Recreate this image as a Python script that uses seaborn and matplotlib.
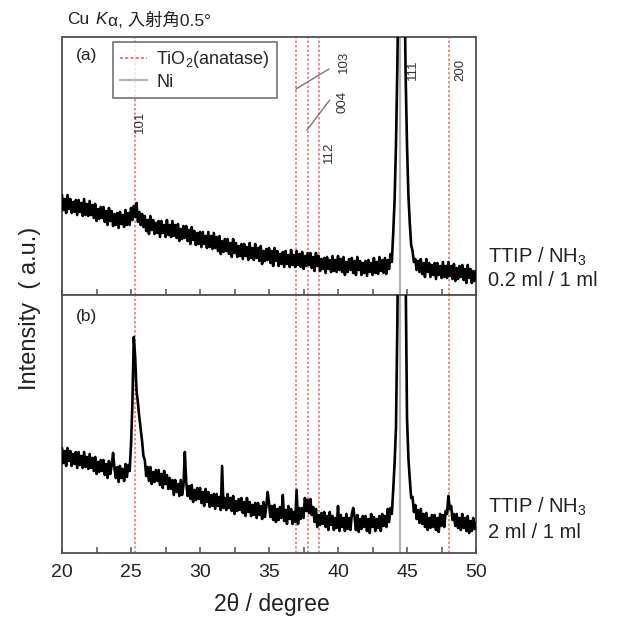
import matplotlib
matplotlib.use("Agg")
import matplotlib.pyplot as plt
from matplotlib.ticker import MultipleLocator
from matplotlib.lines import Line2D
import numpy as np
import seaborn as sb

# ---- data (intensity in arbitrary units) ----
two_theta = np.round(np.arange(20, 50.001, 0.1), 1)

# (a) TTIP/NH3 = 0.2 ml / 1 ml, one row per degree
intensity_a = [
    100, 85, 96, 82, 100, 86, 96, 82, 93, 83,
    95, 80, 95, 83, 92, 79, 96, 80, 91, 79,
    94, 80, 90, 77, 91, 74, 86, 76, 88, 77,
    88, 73, 84, 70, 87, 74, 84, 69, 81, 70,
    82, 67, 83, 71, 80, 68, 85, 70, 82, 70,
    87, 75, 89, 78, 92, 73, 83, 70, 81, 68,
    79, 64, 75, 61, 79, 65, 75, 61, 72, 62,
    74, 58, 74, 62, 70, 58, 75, 60, 70, 58,
    74, 59, 70, 57, 71, 54, 66, 56, 69, 57,
    69, 54, 65, 51, 68, 55, 64, 50, 62, 51,
    63, 48, 63, 51, 59, 47, 63, 48, 59, 46,
    62, 47, 58, 44, 59, 41, 54, 43, 56, 44,
    56, 41, 52, 38, 56, 42, 52, 38, 49, 39,
    51, 36, 51, 39, 48, 35, 52, 37, 47, 35,
    51, 37, 47, 34, 49, 31, 44, 34, 46, 35,
    47, 32, 44, 29, 47, 34, 44, 29, 41, 31,
    43, 28, 44, 31, 40, 28, 45, 30, 40, 28,
    44, 30, 41, 28, 43, 26, 39, 29, 42, 30,
    42, 27, 38, 24, 42, 29, 39, 24, 36, 26,
    37, 22, 38, 26, 35, 23, 39, 24, 35, 23,
    39, 25, 36, 23, 38, 20, 33, 23, 36, 25,
    37, 22, 34, 20, 38, 25, 34, 20, 32, 22,
    34, 19, 35, 23, 32, 20, 37, 22, 33, 21,
    38, 24, 35, 22, 37, 21, 35, 26, 41, 33,
    62, 95, 150, 230, 330, 560, 800, 900, 330, 220,
    150, 100, 72, 50, 44, 33, 36, 25, 34, 23,
    36, 21, 32, 18, 36, 23, 32, 18, 30, 20,
    32, 16, 32, 20, 29, 17, 33, 18, 29, 17,
    33, 19, 29, 16, 31, 14, 27, 16, 29, 18,
    30, 15, 26, 12, 30, 17, 26, 12, 24, 14,
    24,
]

# (b) TTIP/NH3 = 2 ml / 1 ml, one row per degree
intensity_b = [
    105, 90, 102, 87, 105, 92, 102, 87, 99, 89,
    101, 85, 101, 88, 97, 85, 101, 86, 96, 84,
    99, 85, 95, 82, 96, 79, 91, 81, 93, 82,
    93, 78, 89, 75, 92, 79, 88, 100, 85, 75,
    86, 71, 87, 75, 84, 72, 89, 76, 88, 82,
    108, 150, 216, 196, 162, 150, 136, 124, 112, 97,
    93, 77, 86, 72, 86, 69, 81, 71, 83, 72,
    83, 68, 79, 65, 82, 69, 78, 64, 75, 64,
    73, 58, 73, 61, 69, 57, 73, 58, 68, 101,
    71, 57, 67, 54, 68, 51, 63, 53, 65, 54,
    65, 50, 61, 47, 64, 51, 61, 46, 58, 47,
    59, 44, 59, 47, 56, 43, 87, 45, 55, 43,
    59, 45, 55, 42, 57, 39, 52, 42, 54, 43,
    55, 40, 51, 37, 55, 41, 51, 37, 48, 38,
    50, 35, 50, 38, 47, 34, 51, 36, 46, 61,
    50, 36, 47, 33, 48, 31, 44, 33, 46, 35,
    58, 32, 43, 29, 47, 34, 44, 29, 41, 31,
    63, 29, 45, 34, 45, 35, 55, 42, 53, 40,
    54, 38, 46, 31, 44, 26, 38, 28, 40, 29,
    41, 26, 37, 23, 41, 28, 37, 23, 35, 25,
    47, 22, 38, 26, 35, 22, 39, 24, 35, 23,
    39, 45, 36, 23, 38, 21, 34, 24, 37, 26,
    37, 22, 34, 20, 39, 26, 36, 22, 34, 25,
    37, 22, 39, 27, 37, 26, 44, 31, 45, 39,
    63, 90, 125, 230, 380, 600, 800, 900, 500, 280,
    135, 95, 74, 55, 56, 41, 48, 34, 43, 30,
    44, 29, 39, 26, 40, 23, 35, 25, 38, 26,
    38, 23, 35, 21, 39, 27, 38, 26, 42, 39,
    57, 44, 47, 33, 39, 27, 39, 25, 35, 23,
    39, 25, 35, 22, 37, 20, 32, 22, 35, 24,
    30,
]

anatase_pos = [25.3, 36.95, 37.8, 38.6, 48.05]
anatase_hkl = ["101", "103", "004", "112", "200"]
ni_pos = 44.5
ni_hkl = "111"

sample_a = ["TTIP / NH$_3$", "0.2 ml / 1 ml"]
sample_b = ["TTIP / NH$_3$", "2 ml / 1 ml"]

# ---- style ----
sb.set_theme(style="white")
plt.rcParams["font.family"] = ["Liberation Sans", "Noto Sans CJK JP", "DejaVu Sans"]
plt.rcParams["mathtext.fontset"] = "custom"
plt.rcParams["mathtext.rm"] = "Liberation Sans"
plt.rcParams["mathtext.it"] = "Liberation Sans:italic"
plt.rcParams["mathtext.bf"] = "Liberation Sans:bold"

red = "#f07878"
grey = "#b4b4b4"
frame = "#505050"
txt = "#222222"

fig = plt.figure(figsize=(6.19, 6.23), dpi=100)
ax_a = fig.add_axes([0.1002, 0.5265, 0.6688, 0.4141])
ax_b = fig.add_axes([0.1002, 0.1124, 0.6688, 0.4141])

for ax, y in [(ax_a, intensity_a), (ax_b, intensity_b)]:
    for p in anatase_pos:
        ax.axvline(p, color=red, lw=1.2, ls=(0, (1.5, 1.2)), zorder=1)
    ax.axvline(ni_pos, color=grey, lw=1.6, zorder=1)
    sb.lineplot(x=two_theta, y=y, ax=ax, color="black", lw=1.9, zorder=3)
    ax.set_xlim(20, 50)
    ax.set_ylim(0, 258)
    ax.set_yticks([])
    ax.set_ylabel("")
    ax.xaxis.set_major_locator(MultipleLocator(5))
    ax.xaxis.set_minor_locator(MultipleLocator(2.5))
    ax.tick_params(axis="x", which="both", direction="in", length=4, width=1.1,
                   color=frame, bottom=True, top=False, labelsize=14, pad=8,
                   labelcolor=txt)
    for s in ax.spines.values():
        s.set_color(frame)
        s.set_linewidth(1.3)

ax_a.tick_params(axis="x", labelbottom=False)

# legend
handles = [Line2D([], [], color=red, lw=1.4, ls=(0, (1.5, 1.2))),
           Line2D([], [], color=grey, lw=1.6)]
leg = ax_a.legend(handles, ["TiO$_2$(anatase)", "Ni"], loc="upper left",
                  bbox_to_anchor=(0.123, 0.981), borderaxespad=0, fontsize=13,
                  frameon=True, fancybox=False, handlelength=1.5,
                  handletextpad=0.5, labelspacing=0.2, borderpad=0.4)
leg.get_frame().set_edgecolor(frame)
leg.get_frame().set_linewidth(1.2)

# hkl labels
kw = dict(rotation=90, ha="center", va="center", fontsize=9.5, color="#333333")
ax_a.text(25.65, 173, anatase_hkl[0], **kw)
ax_a.text(40.4, 233, anatase_hkl[1], **kw)
ax_a.text(40.3, 193, anatase_hkl[2], **kw)
ax_a.text(39.35, 143, anatase_hkl[3], **kw)
ax_a.text(48.85, 225, anatase_hkl[4], **kw)
ax_a.text(45.45, 225, ni_hkl, **kw)
ax_a.plot([39.35, 36.95], [226, 206], color="#777777", lw=1)
ax_a.plot([39.4, 37.75], [195, 165], color="#777777", lw=1)

ax_a.text(21.0, 240, "(a)", fontsize=12.5, va="center", color=txt)
ax_b.text(21.0, 236, "(b)", fontsize=12.5, va="center", color=txt)

# sample annotations
fig.text(488 / 619, 1 - 257 / 623, sample_a[0], fontsize=14.5, va="center", color=txt)
fig.text(488 / 619, 1 - 281 / 623, sample_a[1], fontsize=14.5, va="center", color=txt)
fig.text(488 / 619, 1 - 507 / 623, sample_b[0], fontsize=14.5, va="center", color=txt)
fig.text(488 / 619, 1 - 532 / 623, sample_b[1], fontsize=14.5, va="center", color=txt)

# axis labels
fig.text(30 / 619, 1 - 308 / 623, "Intensity  ( a.u.)", rotation=90, ha="center",
         va="center", fontsize=17, color=txt)
fig.text(272 / 619, 1 - 605 / 623, "2θ / degree", ha="center", va="center",
         fontsize=16.5, color=txt)

# title pieces
ty = 1 - 20 / 623
fig.text(67 / 619, ty, "Cu", fontsize=12.5, va="center", color=txt)
fig.text(95 / 619, ty, "K", fontsize=12.5, va="center", style="italic", color=txt)
fig.text(108 / 619, ty, "α, 入射角0.5°", fontsize=12.5, va="center", color=txt)

fig.savefig("out.png", dpi=100, facecolor="white")
